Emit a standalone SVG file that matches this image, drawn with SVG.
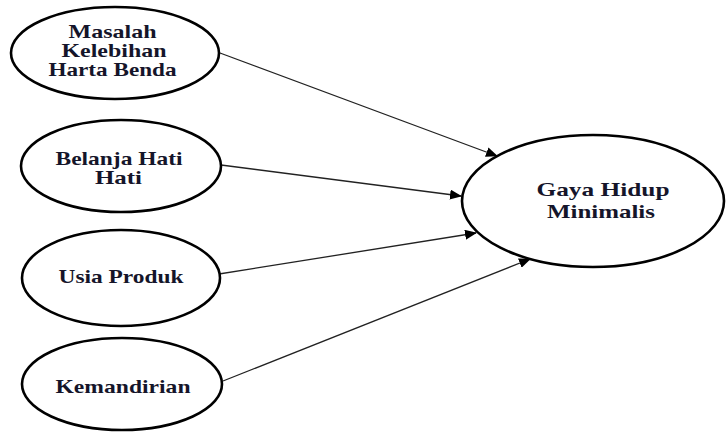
<svg xmlns="http://www.w3.org/2000/svg" width="726" height="433" viewBox="0 0 726 433">
<style>
.node ellipse{fill:#fff;stroke:#000;stroke-width:2.6}
.node text{font-family:"Liberation Serif","Times New Roman",serif;font-weight:bold;font-size:19px;fill:#15152a;text-anchor:middle}
.conn line{stroke:#222;stroke-width:1.3}
</style>
<defs>
<marker id="ah" markerWidth="12" markerHeight="10" refX="11" refY="5" orient="auto" markerUnits="userSpaceOnUse">
<path d="M0,0 L12,5 L0,10 Z" fill="#000"/>
</marker>
</defs>
<rect width="726" height="433" fill="#fff"/>
<g class="conn">
<line x1="220" y1="53" x2="497" y2="156" marker-end="url(#ah)"/>
<line x1="221" y1="165" x2="461" y2="196" marker-end="url(#ah)"/>
<line x1="219" y1="274" x2="476" y2="233" marker-end="url(#ah)"/>
<line x1="223" y1="381" x2="530" y2="259" marker-end="url(#ah)"/>
</g>
<g class="node" id="n1">
<ellipse cx="115" cy="53" rx="104" ry="46"/>
<text x="112.5" y="38" textLength="88" lengthAdjust="spacingAndGlyphs">Masalah</text>
<text x="114" y="57" textLength="105" lengthAdjust="spacingAndGlyphs">Kelebihan</text>
<text x="112.5" y="76" textLength="128" lengthAdjust="spacingAndGlyphs">Harta Benda</text>
</g>
<g class="node" id="n2">
<ellipse cx="121" cy="166" rx="100" ry="46"/>
<text x="119" y="165" textLength="127" lengthAdjust="spacingAndGlyphs">Belanja Hati</text>
<text x="118.5" y="184" textLength="47" lengthAdjust="spacingAndGlyphs">Hati</text>
</g>
<g class="node" id="n3">
<ellipse cx="121" cy="278" rx="99" ry="48"/>
<text x="121" y="283" textLength="125" lengthAdjust="spacingAndGlyphs">Usia Produk</text>
</g>
<g class="node" id="n4">
<ellipse cx="122" cy="384" rx="100" ry="46"/>
<text x="123" y="393" textLength="135" lengthAdjust="spacingAndGlyphs">Kemandirian</text>
</g>
<g class="node" id="n5">
<ellipse cx="593" cy="201" rx="131" ry="66"/>
<text x="603" y="196" textLength="133" lengthAdjust="spacingAndGlyphs">Gaya Hidup</text>
<text x="601" y="218" textLength="108" lengthAdjust="spacingAndGlyphs">Minimalis</text>
</g>
</svg>
